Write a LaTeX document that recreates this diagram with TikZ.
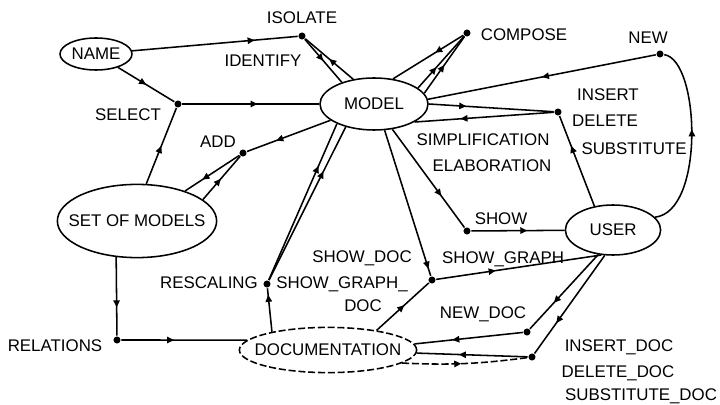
\documentclass[tikz,border=0pt]{standalone}
\usepackage{fontspec}
\setmainfont{Liberation Sans}
\usetikzlibrary{shapes.geometric,arrows.meta,decorations.markings}

\begin{document}
\begin{tikzpicture}[x=0.025cm, y=-0.025cm, line width=1.1pt,
	every node/.style={font=\fontsize{12}{14}\selectfont},
	lbl/.style={inner sep=1pt, text height=8.6pt, text depth=0pt},
	place/.style={draw, ellipse, inner sep=0pt},
	trans/.style={circle, fill, inner sep=0pt, minimum size=5pt},
	midarrow/.style={postaction={decorate}, decoration={markings,
		mark=at position #1 with {\arrow{Triangle[length=5pt,width=4.5pt]}}}},
	midarrow/.default=0.5]
	\useasboundingbox (0,0) rectangle (720,405);
	
	%places
	\node[place, minimum width=1.8cm, minimum height=0.8cm] (name) at (96,54) {NAME};
	\node[place, minimum width=2.7cm, minimum height=1.3cm] (model) at (374,104) {MODEL};
	\node[place, minimum width=3.98cm, minimum height=1.83cm] (setm) at (137,221) {\makebox[0pt]{SET OF MODELS}};
	\node[place, minimum width=2.38cm, minimum height=1.25cm] (user) at (613,230) {USER};
	\node[place, dash pattern=on 5pt off 2pt, minimum width=4.43cm, minimum height=1.13cm] (doc) at (328,350) {\makebox[0pt]{DOCUMENTATION}};
	
	%transitions
	\node[trans] (isolate) at (302,36) {};
	\node[trans] (select) at (178,104) {};
	\node[trans] (add) at (243,153) {};
	\node[trans] (compose) at (467,33) {};
	\node[trans] (new) at (660,54) {};
	\node[trans] (insert) at (558,112) {};
	\node[trans] (show) at (467,231) {};
	\node[trans] (showgraph) at (432,280) {};
	\node[trans] (rescaling) at (267,284) {};
	\node[trans] (relations) at (117,340) {};
	\node[trans] (newdoc) at (527,332) {};
	\node[trans] (insertdoc) at (532,357) {};
	
	%labels
	\node[lbl] (isolate-l) at (302,17) {ISOLATE};
	\node[lbl] (identify-l) at (263,60) {IDENTIFY};
	\node[lbl] (select-l) at (128,114) {SELECT};
	\node[lbl] (add-l) at (218,141) {ADD};
	\node[lbl] (compose-l) at (524,34) {COMPOSE};
	\node[lbl] (new-l) at (648,37) {NEW};
	\node[lbl] (insert-l) at (608,94) {INSERT};
	\node[lbl] (delete-l) at (605,120) {DELETE};
	\node[lbl] (subst-l) at (634,148) {SUBSTITUTE};
	\node[lbl] (simpl-l) at (483,139) {SIMPLIFICATION};
	\node[lbl] (elab-l) at (492,165) {ELABORATION};
	\node[lbl] (show-l) at (501,218) {SHOW};
	\node[lbl] (showgraph-l) at (503,257) {SHOW\_GRAPH};
	\node[lbl] (showdoc-l) at (362,256) {SHOW\_DOC};
	\node[lbl] (showgraphdoc-l) at (342,282) {SHOW\_GRAPH\_};
	\node[lbl] (doc-l) at (363,305) {DOC};
	\node[lbl] (rescaling-l) at (209,282) {RESCALING};
	\node[lbl] (relations-l) at (55,345) {RELATIONS};
	\node[lbl] (newdoc-l) at (483,312) {NEW\_DOC};
	\node[lbl] (insertdoc-l) at (619,345) {INSERT\_DOC};
	\node[lbl] (deletedoc-l) at (618,371) {DELETE\_DOC};
	\node[lbl] (substdoc-l) at (641,394) {SUBSTITUTE\_DOC};
	
	%name, isolate, select
	\draw[midarrow=.74] (name) -- (isolate);
	\draw[midarrow] (isolate) -- (model.146);
	\draw[midarrow] (model.130) -- (isolate);
	\draw[midarrow] (name) -- (select);
	\draw[midarrow] (setm.76) -- (select);
	\draw[midarrow=.55] (select) -- (model);
	
	%add
	\draw[midarrow=.65] (model) -- (add);
	\draw[midarrow=.68] (add) -- (setm.32);
	\draw[midarrow=.48] (setm.18) -- (add);
	
	%compose
	\draw[midarrow=.4] (compose) -- (model.53);
	\draw[midarrow=.4] (model.20) -- (compose);
	\draw[midarrow=.5] (model.12) -- (compose);
	
	%new
	\draw[midarrow] (new) -- (model.5);
	\draw[midarrow=.55] (user.17) .. controls (705,212) and (700,60) .. (new);
	
	%insert, delete, substitute
	\draw[midarrow=.3] (model.east) -- (insert);
	\draw[midarrow=.67] (insert) -- (model.336);
	\draw[midarrow=.67] (user.128) -- (insert);
	
	%show
	\draw[midarrow=.68] (model.306) -- (show);
	\draw[midarrow=.6] (show) -- (user);
	
	%show graph
	\draw[midarrow=.95] (model.292) -- (showgraph);
	\draw[midarrow=.36] (showgraph) -- (user.245);
	\draw[midarrow=.53] (doc.22) -- (showgraph);
	
	%rescaling
	\draw[midarrow=.73] (rescaling) -- (model.208);
	\draw[midarrow=.71] (rescaling) -- (model.219);
	\draw[midarrow=.85] (doc.162) -- (rescaling);
	
	%relations
	\draw[midarrow=.64] (setm.240) -- (relations);
	\draw[midarrow=.42] (relations) -- (doc.173);
	
	%documentation
	\draw[midarrow=.65] (user.239) -- (newdoc);
	\draw[midarrow=.65] (newdoc) -- (doc.4);
	\draw[midarrow=.69] (user.252) -- (insertdoc);
	\draw[midarrow=.62] (insertdoc) -- (doc.358);
	\draw[midarrow=.47, dash pattern=on 5pt off 2pt] (doc.350) to[bend right=5] (insertdoc);
\end{tikzpicture}
\end{document}
